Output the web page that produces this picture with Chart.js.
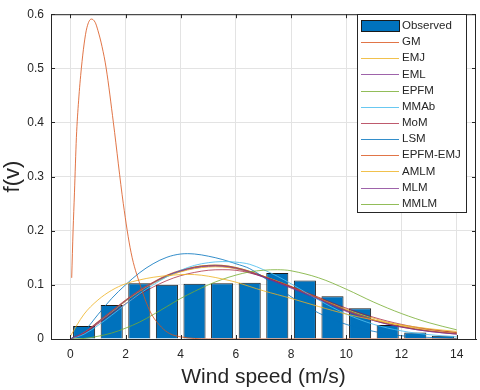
<!DOCTYPE html>
<html>
<head>
<meta charset="UTF-8">
<title>Wind speed distribution</title>
<script src="https://cdn.jsdelivr.net/npm/chart.js"></script>
<style>
  html, body { margin: 0; padding: 0; background: #fff; }
  #chart { display: block; }
</style>
</head>
<body>
<canvas id="chart" width="480" height="390"></canvas>
<script>
// observed histogram
const barX = [0.5, 1.5, 2.5, 3.5, 4.5, 5.5, 6.5, 7.5, 8.5, 9.5, 10.5, 11.5, 12.5, 13.5];
const observed = [0.024, 0.063, 0.103, 0.100, 0.102, 0.103, 0.104, 0.122, 0.108, 0.079, 0.057, 0.026, 0.012, 0.006];

// GM curve (own x values, sharp peak)
const gmX = [0.05, 0.1, 0.15, 0.22, 0.3, 0.4, 0.5, 0.6, 0.76, 0.9, 1.0, 1.15, 1.3, 1.56, 1.92, 2.2, 2.53, 2.9, 3.3, 3.6, 4, 4.5, 5, 6, 8, 10, 12, 14];
const gmY = [0.113, 0.2, 0.27, 0.372, 0.44, 0.5, 0.545, 0.575, 0.591, 0.585, 0.57, 0.54, 0.5, 0.4, 0.25, 0.16, 0.1, 0.05, 0.022, 0.01, 0.004, 0.001, 0, 0, 0, 0, 0, 0];

// other fitted curves, read at these wind speeds
const fitX = [0, 0.5, 1, 1.5, 2, 2.5, 3, 3.5, 4, 4.5, 5, 5.5, 6, 6.5, 7, 7.5, 8, 9, 10, 11, 12, 13, 14];
const emj     = [0.005, 0.046, 0.072, 0.090, 0.102, 0.109, 0.114, 0.117, 0.119, 0.119, 0.116, 0.111, 0.105, 0.097, 0.089, 0.082, 0.075, 0.060, 0.046, 0.035, 0.026, 0.019, 0.014];
const eml     = [0, 0.012, 0.031, 0.051, 0.071, 0.089, 0.104, 0.117, 0.126, 0.132, 0.135, 0.135, 0.131, 0.124, 0.115, 0.105, 0.095, 0.074, 0.052, 0.034, 0.022, 0.014, 0.009];
const epfm    = [0, 0.001, 0.005, 0.011, 0.020, 0.031, 0.045, 0.060, 0.075, 0.088, 0.100, 0.110, 0.118, 0.124, 0.127, 0.128, 0.126, 0.113, 0.092, 0.068, 0.047, 0.030, 0.017];
const mmab    = [0, 0.009, 0.025, 0.044, 0.064, 0.083, 0.100, 0.115, 0.127, 0.136, 0.141, 0.143, 0.142, 0.138, 0.128, 0.116, 0.102, 0.072, 0.046, 0.027, 0.015, 0.008, 0.004];
const mom     = [0, 0.011, 0.028, 0.047, 0.065, 0.082, 0.096, 0.108, 0.117, 0.123, 0.127, 0.128, 0.127, 0.122, 0.115, 0.106, 0.097, 0.077, 0.057, 0.040, 0.027, 0.018, 0.012];
const lsm     = [0, 0.015, 0.045, 0.075, 0.100, 0.122, 0.139, 0.151, 0.157, 0.157, 0.153, 0.147, 0.139, 0.130, 0.114, 0.096, 0.078, 0.048, 0.027, 0.014, 0.006, 0.003, 0.001];
const epfmEmj = [0, 0.012, 0.032, 0.052, 0.072, 0.090, 0.105, 0.118, 0.127, 0.133, 0.136, 0.136, 0.132, 0.125, 0.116, 0.106, 0.096, 0.075, 0.053, 0.035, 0.023, 0.015, 0.010];
const amlm    = [0, 0.012, 0.031, 0.050, 0.070, 0.088, 0.103, 0.115, 0.124, 0.130, 0.133, 0.133, 0.130, 0.124, 0.116, 0.107, 0.097, 0.076, 0.055, 0.038, 0.025, 0.017, 0.012];
const mlm     = [0, 0.011, 0.030, 0.050, 0.070, 0.088, 0.103, 0.116, 0.125, 0.131, 0.134, 0.134, 0.130, 0.123, 0.114, 0.104, 0.094, 0.073, 0.051, 0.034, 0.022, 0.014, 0.009];
const mmlm    = [0, 0.011, 0.030, 0.050, 0.070, 0.088, 0.104, 0.117, 0.126, 0.133, 0.136, 0.136, 0.132, 0.125, 0.116, 0.106, 0.096, 0.075, 0.053, 0.035, 0.023, 0.015, 0.010];

const BAR = '#0072BD';
const BLUE = 'rgba(0,114,189,0.8)', ORANGE = 'rgba(217,83,25,0.8)', YELLOW = 'rgba(237,177,32,0.8)',
      PURPLE = 'rgba(126,47,142,0.75)', GREEN = 'rgba(119,172,48,0.8)', CYAN = 'rgba(77,190,238,0.85)',
      RED = 'rgba(162,20,47,0.7)';

function pts(xs, ys) { return xs.map((x, i) => ({x: x, y: ys[i]})); }
function curve(label, color, xs, ys, mono) {
    return {
        type: 'line', label: label, data: pts(xs, ys),
        borderColor: color, borderWidth: 1, pointRadius: 0, fill: false,
        tension: 0.35, cubicInterpolationMode: mono ? 'monotone' : 'default', order: 0
    };
}

const datasets = [
    {
        type: 'bar', label: 'Observed', data: pts(barX, observed),
        backgroundColor: BAR, borderColor: '#1a1a1a', borderWidth: 1,
        barPercentage: 0.8, categoryPercentage: 1, order: 1
    },
    curve('GM', ORANGE, gmX, gmY, true),
    curve('EMJ', YELLOW, fitX, emj),
    curve('EML', PURPLE, fitX, eml),
    curve('EPFM', GREEN, fitX, epfm),
    curve('MMAb', CYAN, fitX, mmab),
    curve('MoM', RED, fitX, mom),
    curve('LSM', BLUE, fitX, lsm),
    curve('EPFM-EMJ', ORANGE, fitX, epfmEmj),
    curve('AMLM', YELLOW, fitX, amlm),
    curve('MLM', PURPLE, fitX, mlm),
    curve('MMLM', GREEN, fitX, mmlm)
];

// box around the axes, inward tick marks, legend inside the plot
const boxAndLegend = {
    id: 'boxAndLegend',
    afterDraw(chart) {
        const ctx = chart.ctx, a = chart.chartArea;
        const sx = chart.scales.x, sy = chart.scales.y;
        ctx.save();
        ctx.strokeStyle = '#262626';
        ctx.lineWidth = 1;
        ctx.strokeRect(a.left + 0.5, a.top + 0.5, a.right - a.left - 1, a.bottom - a.top);

        ctx.beginPath();
        sx.ticks.forEach(t => {
            const px = Math.round(sx.getPixelForValue(t.value)) + 0.5;
            ctx.moveTo(px, a.bottom); ctx.lineTo(px, a.bottom - 4);
            ctx.moveTo(px, a.top); ctx.lineTo(px, a.top + 4);
        });
        sy.ticks.forEach(t => {
            const py = Math.round(sy.getPixelForValue(t.value)) + 0.5;
            ctx.moveTo(a.left, py); ctx.lineTo(a.left + 4, py);
            ctx.moveTo(a.right, py); ctx.lineTo(a.right - 4, py);
        });
        ctx.stroke();

        const lx = 357.5, ly = 14.5, lw = 109, lh = 198;
        ctx.fillStyle = '#fff';
        ctx.fillRect(lx, ly, lw, lh);
        ctx.strokeStyle = '#262626';
        ctx.strokeRect(lx, ly, lw, lh);
        ctx.font = '11.5px "Liberation Sans", Arial, sans-serif';
        ctx.textBaseline = 'middle';
        chart.data.datasets.forEach((ds, i) => {
            const y = 26 + i * 16.15;
            if (ds.type === 'bar') {
                ctx.fillStyle = ds.backgroundColor;
                ctx.fillRect(361.5, y - 5.5, 38, 11);
                ctx.strokeStyle = '#1a1a1a';
                ctx.strokeRect(361.5, y - 5.5, 38, 11);
            } else {
                ctx.strokeStyle = ds.borderColor;
                ctx.beginPath();
                ctx.moveTo(361, Math.round(y) + 0.5);
                ctx.lineTo(399, Math.round(y) + 0.5);
                ctx.stroke();
            }
            ctx.fillStyle = '#262626';
            ctx.fillText(ds.label, 402, y);
        });
        ctx.restore();
    }
};

Chart.defaults.font.family = '"Liberation Sans", Arial, sans-serif';
Chart.defaults.color = '#262626';

new Chart(document.getElementById('chart').getContext('2d'), {
    type: 'scatter',
    data: {datasets: datasets},
    options: {
        responsive: false,
        animation: false,
        layout: {padding: {top: 7, right: 4, left: 0, bottom: 0}},
        plugins: {legend: {display: false}, tooltip: {enabled: false}},
        scales: {
            x: {
                type: 'linear', min: -0.7, max: 14.7, offset: false,
                ticks: {stepSize: 2, includeBounds: false, padding: 8, font: {size: 12}},
                grid: {color: '#e3e3e3', drawTicks: false, offset: false},
                border: {color: '#262626'},
                title: {display: true, text: 'Wind speed (m/s)', font: {size: 21}, padding: 0},
                afterFit: s => { s.height = 51; }
            },
            y: {
                type: 'linear', min: 0, max: 0.6,
                ticks: {stepSize: 0.1, padding: 7, font: {size: 12}, callback: v => +v.toFixed(1)},
                grid: {color: '#e3e3e3', drawTicks: false},
                border: {color: '#262626'},
                title: {display: true, text: 'f(v)', font: {size: 22}, padding: 0},
                afterFit: s => { s.width = 51; }
            }
        }
    },
    plugins: [boxAndLegend]
});
</script>
</body>
</html>
